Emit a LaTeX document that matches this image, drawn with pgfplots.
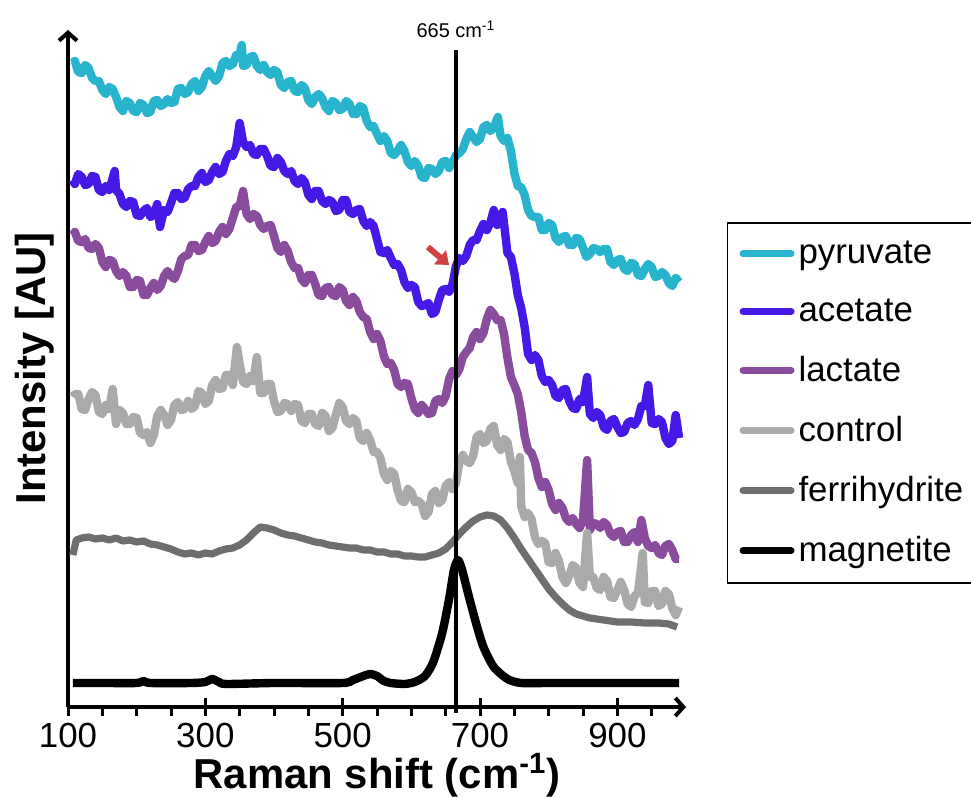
\documentclass[border=0pt]{standalone}
\usepackage{fontspec}
\setmainfont{Liberation Sans}
\usepackage{pgfplots}
\pgfplotsset{compat=1.18}
\usetikzlibrary{arrows.meta}
\definecolor{pyr}{RGB}{40,180,205}
\definecolor{ace}{RGB}{70,25,230}
\definecolor{lac}{RGB}{138,76,157}
\definecolor{ctl}{RGB}{170,170,170}
\definecolor{fer}{RGB}{110,110,110}
\definecolor{redarrow}{RGB}{210,65,70}
\begin{document}
\begin{tikzpicture}
\begin{axis}[
    at={(0,0)}, anchor=south west,
    scale only axis, width=309bp, height=338.5bp,
    xmin=100, xmax=1000, ymin=0, ymax=677,
    axis lines=left,
    axis line style={line width=2bp, -{Straight Barb[length=4bp,width=9bp]}},
    xtick={100,300,500,700,900},
    minor xtick={150,200,250,350,400,450,550,600,650,750,800,850,950},
    ytick=\empty,
    tick align=center,
    major tick length=9bp, minor tick length=4.5bp,
    tick style={line width=1.5bp, black},
    minor tick style={yshift=-2.25bp},
    /pgf/number format/assume math mode=true,
    /pgf/number format/1000 sep={},
    xticklabel style={font=\fontsize{17.5}{20}\selectfont},
    xlabel={\textbf{Raman shift (cm\textsuperscript{-1})}},
    ylabel={\textbf{Intensity [AU]}},
    label style={font=\fontsize{21}{24}\selectfont},
    xlabel style={yshift=4bp},
    ylabel style={yshift=-1bp},
    clip=false,
    line join=round,
    legend style={at={(1.066,0.716)}, anchor=north west, draw=black, line width=0.75bp,
        font=\fontsize{17.5}{21}\selectfont, row sep=12bp,
        inner xsep=6bp, inner ysep=7bp, cells={anchor=west}},
    legend image code/.code={\draw[#1, line width=3.5bp, line cap=round] (0bp,0bp) -- (24bp,0bp);},
]
% pyruvate
\addplot[color=pyr, line width=4.2bp] coordinates {
(107,644) (110,646) (115,635) (120,634) (125,642) (130,639) (135,629) (140,626) (145,626) (150,617) (155,613)
(160,620) (165,618) (170,610) (175,600) (180,596) (185,606) (190,604) (195,596) (200,595) (205,604)
(210,602) (215,594) (220,595) (225,606) (230,607) (235,601) (240,603) (245,608) (250,604) (255,605)
(260,618) (265,619) (270,613) (275,615) (280,623) (285,626) (290,616) (295,620) (300,631) (305,636)
(310,631) (315,626) (320,631) (325,644) (330,646) (335,641) (340,643) (345,652) (350,652) (353,662) (355,641)
(360,642) (365,650) (370,651) (375,641) (380,637) (385,642) (390,635) (395,632) (400,637) (405,635)
(410,622) (415,619) (420,625) (425,626) (430,616) (435,615) (440,622) (445,619) (450,607) (455,603)
(460,610) (465,613) (470,609) (475,600) (480,596) (485,606) (490,604) (495,597) (500,598) (505,606)
(510,603) (515,593) (520,593) (525,601) (530,599) (535,586) (540,580) (545,581) (550,573) (555,566)
(560,571) (565,566) (570,554) (575,552) (580,556) (585,562) (590,556) (595,545) (600,541) (605,546)
(610,541) (615,530) (620,529) (625,539) (630,538) (635,533) (640,536) (645,545) (650,546) (655,539)
(660,544) (665,552) (670,554) (675,558) (680,568) (685,575) (690,570) (695,565) (700,568) (705,580)
(710,582) (715,576) (720,579) (726,590) (730,571) (735,566) (740,569) (745,556) (750,534) (755,521)
(760,520) (765,512) (770,497) (775,491) (780,490) (785,490) (790,477) (795,477) (800,484) (805,482)
(810,469) (815,465) (820,470) (825,471) (830,462) (835,462) (840,469) (845,468) (850,459) (855,450)
(860,453) (865,459) (870,458) (875,455) (880,458) (885,458) (890,445) (895,442) (900,447) (905,448)
(910,438) (915,436) (920,444) (925,443) (930,432) (935,431) (940,438) (945,443) (950,440) (955,430)
(960,431) (965,435) (970,432) (975,424) (980,421) (985,429) (990,425)
};
\addlegendentry{pyruvate}
% acetate
\addplot[color=ace, line width=4.2bp] coordinates {
(107,527) (110,523) (115,533) (120,530) (125,522) (130,523) (135,531) (140,530) (145,517) (150,515) (155,521)
(160,517) (168,536) (170,517) (175,513) (180,503) (185,500) (190,506) (195,505) (200,492) (205,491)
(210,496) (215,499) (220,490) (225,492) (230,503) (234,480) (240,497) (245,495) (250,504) (255,514)
(260,514) (265,508) (270,509) (275,518) (280,521) (285,521) (290,530) (295,534) (300,525) (305,527)
(310,535) (315,540) (320,533) (325,535) (330,546) (335,553) (340,551) (345,560) (350,584) (355,565)
(360,560) (365,562) (370,553) (375,552) (380,558) (385,558) (390,551) (395,541) (400,540) (405,549)
(410,545) (415,536) (420,533) (425,536) (430,526) (435,523) (440,529) (445,525) (450,512) (455,508)
(460,516) (465,516) (470,506) (475,503) (480,507) (485,505) (490,496) (495,497) (500,507) (505,507)
(510,495) (515,493) (520,497) (525,498) (530,486) (535,481) (540,485) (545,481) (550,468) (555,455)
(560,454) (565,457) (570,449) (575,442) (580,443) (585,437) (590,425) (595,419) (600,422) (605,420)
(610,405) (615,401) (620,402) (625,404) (630,393) (635,395) (640,407) (645,417) (650,418) (655,415)
(660,423) (665,441) (670,449) (675,446) (680,451) (685,462) (690,467) (695,467) (700,476) (705,483)
(710,477) (715,484) (720,497) (725,482) (733,495) (740,454) (745,450) (750,434) (755,412) (760,399)
(765,380) (770,353) (775,347) (780,352) (785,347) (790,331) (795,325) (800,327) (805,322) (810,311)
(815,309) (820,317) (825,318) (830,306) (835,299) (840,298) (845,308) (850,305) (856,330) (860,293)
(865,289) (870,295) (875,292) (880,280) (885,277) (890,286) (895,288) (900,280) (905,274) (910,275)
(915,284) (920,286) (925,282) (930,288) (935,301) (940,301) (945,322) (950,284) (955,283) (960,288)
(965,285) (970,269) (975,263) (980,266) (985,292) (990,269)
};
\addlegendentry{acetate}
% lactate
\addplot[color=lac, line width=4.2bp] coordinates {
(107,472) (110,475) (115,466) (120,465) (125,468) (130,459) (135,458) (140,463) (145,459) (150,445) (155,440)
(160,447) (165,446) (170,436) (175,431) (180,435) (185,431) (190,420) (195,420) (200,427) (205,426)
(210,412) (215,412) (220,419) (225,424) (230,417) (235,421) (240,431) (245,436) (250,431) (255,428)
(260,436) (265,448) (270,451) (275,452) (280,462) (285,462) (290,456) (295,457) (300,465) (305,471)
(310,464) (315,466) (320,475) (325,480) (330,473) (335,478) (340,489) (345,500) (350,501) (355,516)
(360,493) (365,488) (370,493) (375,491) (380,482) (385,478) (390,481) (395,482) (400,471) (405,459)
(410,455) (415,462) (420,456) (425,445) (430,439) (435,439) (440,428) (445,424) (450,432) (455,432)
(460,423) (465,412) (470,411) (475,419) (480,420) (485,412) (490,411) (495,420) (500,417) (505,406)
(510,402) (515,410) (520,406) (525,395) (530,390) (535,388) (540,375) (545,368) (550,373) (555,366)
(560,351) (565,343) (570,344) (575,337) (580,323) (585,320) (590,324) (595,323) (600,309) (605,298)
(610,294) (615,302) (620,298) (625,293) (630,294) (635,306) (640,308) (645,304) (650,311) (655,328)
(660,336) (665,332) (670,338) (675,350) (680,355) (685,359) (690,370) (695,375) (700,368) (705,374)
(710,388) (715,397) (720,393) (725,387) (730,387) (735,373) (740,349) (745,330) (750,322) (755,313)
(760,295) (765,271) (770,257) (775,254) (780,245) (785,229) (790,220) (795,225) (800,217) (805,203)
(810,197) (815,204) (820,199) (825,189) (830,185) (835,189) (840,183) (845,179) (850,187) (856,247)
(860,177) (865,184) (870,183) (875,179) (880,185) (885,182) (890,173) (895,170) (900,175) (905,176)
(910,165) (915,165) (920,172) (925,175) (930,165) (935,187) (940,169) (945,161) (950,159) (955,162)
(960,154) (965,152) (970,161) (975,163) (980,157) (985,148) (990,148)
};
\addlegendentry{lactate}
% control
\addplot[color=ctl, line width=4.2bp] coordinates {
(107,310) (110,313) (115,313) (120,298) (125,297) (130,308) (135,315) (140,312) (145,295) (150,293) (155,302)
(160,298) (165,318) (170,283) (175,297) (180,294) (185,283) (190,283) (195,290) (200,289) (205,274)
(210,272) (215,275) (220,264) (225,272) (230,291) (235,297) (240,292) (245,282) (250,287) (255,302)
(260,305) (265,297) (270,298) (275,306) (280,298) (285,301) (290,316) (295,314) (300,303) (305,306)
(310,322) (315,327) (320,318) (325,319) (330,332) (335,332) (340,322) (346,360) (350,343) (355,325)
(360,323) (365,331) (370,326) (375,350) (380,314) (385,314) (390,323) (395,323) (400,306) (405,295)
(410,296) (415,304) (420,303) (425,296) (430,303) (435,302) (440,286) (445,284) (450,293) (455,293)
(460,283) (465,281) (470,294) (475,291) (480,276) (485,279) (490,292) (495,304) (500,300) (505,286)
(510,283) (515,289) (520,286) (525,269) (530,266) (535,274) (540,267) (545,255) (550,255) (555,249)
(560,233) (565,227) (570,236) (575,233) (580,217) (585,206) (590,205) (595,218) (600,215) (605,205)
(610,206) (615,203) (620,191) (625,195) (630,213) (635,216) (640,204) (645,207) (650,221) (655,225)
(660,218) (665,224) (670,245) (675,252) (680,246) (685,244) (690,251) (695,270) (700,273) (705,264)
(710,266) (715,278) (720,281) (725,262) (730,257) (735,268) (740,265) (745,245) (750,236) (755,224)
(758,250) (760,201) (765,190) (770,194) (775,188) (780,170) (785,163) (790,166) (795,164) (800,145)
(805,144) (810,154) (815,146) (820,130) (825,124) (830,131) (835,142) (840,139) (845,124) (850,120)
(856,174) (860,130) (865,130) (870,119) (875,117) (880,130) (885,126) (890,110) (895,109) (900,117)
(905,125) (910,117) (915,103) (920,100) (925,111) (930,114) (937,154) (940,105) (945,104) (950,116)
(955,116) (960,101) (965,103) (970,116) (975,113) (980,99) (985,92) (990,100)
};
\addlegendentry{control}
% ferrihydrite
\addplot[color=fer, line width=3.6bp] coordinates {
(107,152) (112,167) (120,169) (130,170) (140,168) (150,169) (160,167) (170,169) (180,166) (190,167)
(200,165) (210,166) (220,163) (230,162) (240,160) (250,158) (260,155) (270,153) (280,154) (290,152)
(300,154) (310,153) (320,156) (330,158) (340,159) (350,162) (360,167) (370,174) (380,180) (390,179)
(400,177) (410,174) (420,172) (430,171) (440,169) (450,167) (460,165) (470,164) (480,162) (490,161)
(500,160) (510,159) (520,159) (530,157) (540,157) (550,155) (560,155) (570,153) (580,153) (590,151)
(600,151) (610,150) (620,150) (630,152) (640,154) (650,158) (660,165) (670,173) (680,180) (690,186)
(700,190) (710,192) (720,191) (730,187) (740,179) (750,169) (760,158) (770,148) (780,138) (790,128)
(800,118) (810,110) (820,103) (830,97) (840,93) (850,91) (860,89) (870,88) (880,87) (890,86)
(900,85) (920,85) (940,84) (960,84) (975,83) (987,80)
};
\addlegendentry{ferrihydrite}
% magnetite
\addplot[color=black, line width=4.2bp, smooth, tension=0.4] coordinates {
(107,24) (150,24) (200,24) (210,26) (220,24) (280,24) (300,25) (310,28) (320,25) (330,23)
(400,24) (500,24) (515,27) (530,31) (540,33) (550,31) (560,26) (570,24) (590,23) (605,25)
(620,31) (632,45) (645,74) (655,108) (662,137) (668,147) (674,137) (684,110) (695,82)
(705,60) (720,40) (740,28) (760,24) (800,24) (900,24) (990,24)
};
\addlegendentry{magnetite}
% 665 cm-1 marker
\addplot[black, line width=1.6bp, forget plot] coordinates {(665,-6) (665,657)};
\node[font=\fontsize{10}{12}\selectfont, anchor=south] at (axis cs:665,662) {665 cm\textsuperscript{-1}};
\draw[redarrow, line width=3bp, -{Triangle[length=6bp,width=9bp]}] (axis cs:624,460) -- (axis cs:655,442);
\end{axis}
\pgfresetboundingbox
\useasboundingbox (-34bp,-45.5bp) rectangle (451.5bp,353.5bp);
\end{tikzpicture}
\end{document}
